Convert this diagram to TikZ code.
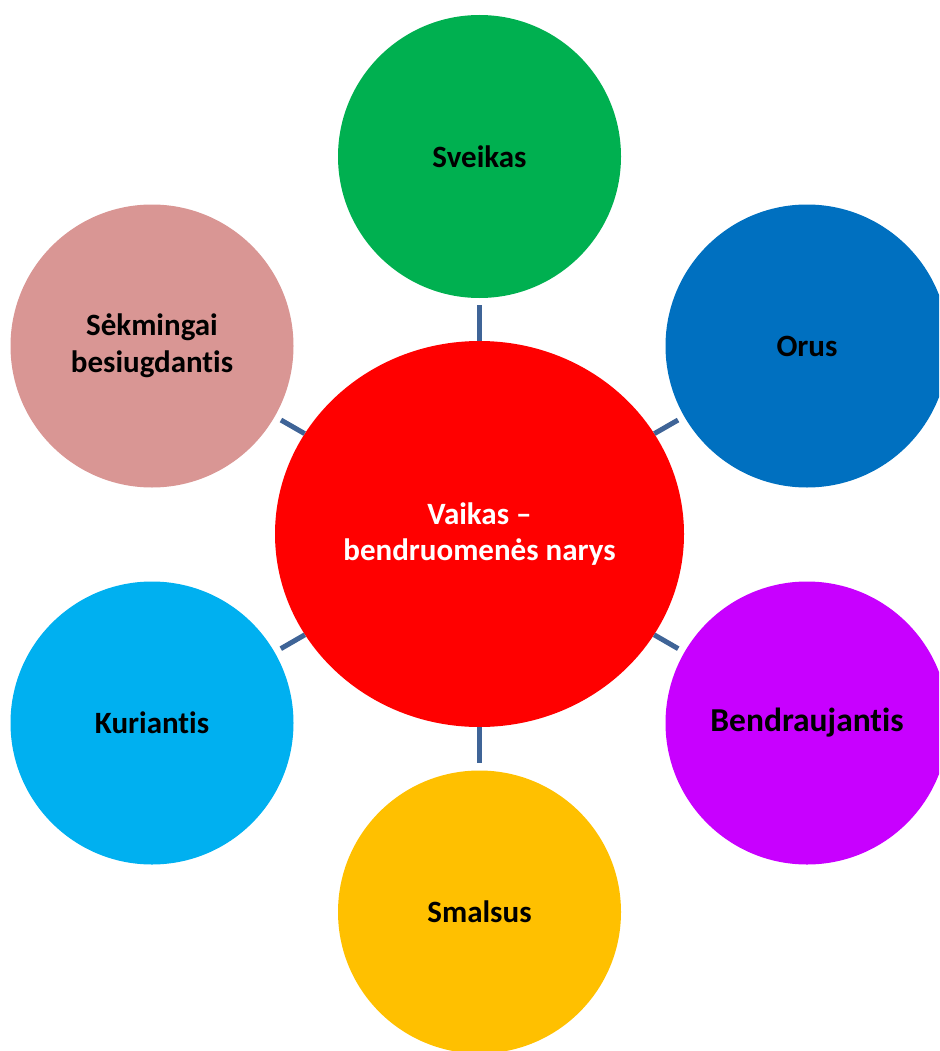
\documentclass[tikz,border=0pt]{standalone}
\usepackage{fontspec}
\setmainfont{Carlito}[Ligatures={NoCommon,NoRequired,NoContextual}]
\usetikzlibrary{shapes.geometric}
\definecolor{cgreen}{HTML}{00B050}
\definecolor{cblue}{HTML}{0070C0}
\definecolor{cpurple}{HTML}{C800FF}
\definecolor{cyellow}{HTML}{FFC000}
\definecolor{clight}{HTML}{00B0F0}
\definecolor{cpink}{HTML}{D99694}
\definecolor{cred}{HTML}{FF0000}
\definecolor{cline}{RGB}{63,100,151}
\tikzset{
  bubble/.style={circle, minimum size=283pt, inner sep=0pt, draw=none, align=center,
    font=\fontsize{31}{37}\selectfont\bfseries, text=black},
  hub/.style={ellipse, minimum width=409pt, minimum height=386pt, inner sep=0pt, draw=none,
    fill=cred, align=center, font=\fontsize{31}{36}\selectfont\bfseries, text=white},
  link/.style={draw=cline, line width=5pt, shorten >=7pt}
}
\begin{document}
\begin{tikzpicture}[x=1pt,y=-1pt]
\useasboundingbox (0,0) rectangle (939,1051);
\clip (0,0) rectangle (939,1051);
\node[hub] (c) at (479.5,534) {Vaikas –\\bendruomenės narys};
\node[bubble, fill=cgreen] (g) at (479.5,156.5) {Sveikas};
\node[bubble, fill=cblue] (o) at (807,346) {Orus};
\node[bubble, fill=cpurple, font=\fontsize{33.5}{40}\selectfont\bfseries] (b) at (807,723) {Bendraujantis};
\node[bubble, fill=cyellow] (y) at (479.5,912) {Smalsus};
\node[bubble, fill=clight] (k) at (152,723) {Kuriantis};
\node[bubble, fill=cpink] (p) at (152,346) {Sėkmingai\\besiugdantis};
\draw[link] (c) -- (g);
\draw[link] (c) -- (o);
\draw[link] (c) -- (b);
\draw[link] (c) -- (y);
\draw[link] (c) -- (k);
\draw[link] (c) -- (p);
\end{tikzpicture}
\end{document}
